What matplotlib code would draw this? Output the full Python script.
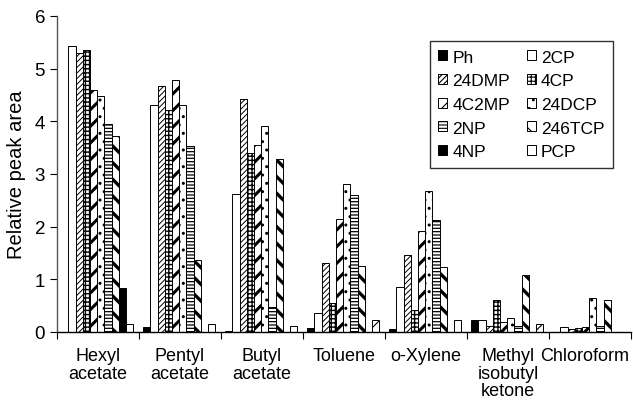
import numpy as np
import matplotlib
matplotlib.use("Agg")
import matplotlib.pyplot as plt
import matplotlib.transforms as mtransforms

plt.rcParams['font.family'] = ['Liberation Sans', 'DejaVu Sans']
plt.rcParams['hatch.linewidth'] = 0.8

solvents = ["Hexyl\nacetate", "Pentyl\nacetate", "Butyl\nacetate", "Toluene",
            "o-Xylene", "Methyl\nisobutyl\nketone", "Chloroform"]

compounds = ["Ph", "2CP", "24DMP", "4CP", "4C2MP", "24DCP", "2NP", "246TCP", "4NP", "PCP"]

# relative peak area for each phenol, one value per solvent
ph     = [0.00, 0.09, 0.02, 0.08, 0.06, 0.23, 0.00]
cp2    = [5.43, 4.30, 2.62, 0.36, 0.85, 0.22, 0.09]
dmp24  = [5.30, 4.66, 4.43, 1.31, 1.45, 0.12, 0.06]
cp4    = [5.36, 4.22, 3.40, 0.55, 0.42, 0.61, 0.07]
c2mp4  = [4.59, 4.78, 3.54, 2.15, 1.91, 0.18, 0.09]
dcp24  = [4.47, 4.30, 3.90, 2.80, 2.67, 0.27, 0.65]
np2    = [3.95, 3.53, 0.48, 2.60, 2.13, 0.12, 0.12]
tcp246 = [3.72, 1.37, 3.28, 1.26, 1.24, 1.08, 0.61]
np4    = [0.84, 0.00, 0.00, 0.00, 0.00, 0.00, 0.00]
pcp    = [0.15, 0.14, 0.12, 0.23, 0.22, 0.15, 0.00]

series = [ph, cp2, dmp24, cp4, c2mp4, dcp24, np2, tcp246, np4, pcp]

# fill / hatch / hatch line width for each compound
styles = [
    ("black", "xxx", 1.0),
    ("white", "", 0.8),
    ("white", "//////", 0.7),
    ("white", "++++", 1.0),
    ("white", "//", 2.2),
    ("white", "..", 1.0),
    ("white", "-----", 0.9),
    ("white", "\\\\", 2.4),
    ("black", "", 0.8),
    ("white", "/", 0.8),
]

fig = plt.figure(figsize=(6.33, 4.02), dpi=100)
ax = fig.add_axes([0.090, 0.172, 0.907, 0.786])

n_groups = len(solvents)
bw = 0.088
x0 = np.arange(n_groups) + 0.05

handles = []
for i, (vals, (fc, hatch, hlw)) in enumerate(zip(series, styles)):
    bars = ax.bar(x0 + i * bw, vals, width=bw, align='edge', color=fc,
                  edgecolor='black', linewidth=0.7, hatch=hatch,
                  label=compounds[i])
    for b in bars:
        if hasattr(b, 'set_hatch_linewidth'):
            b.set_hatch_linewidth(hlw)
    handles.append(bars)

ax.set_xlim(0, n_groups)
ax.set_ylim(0, 6)
ax.set_yticks(range(0, 7))
ax.set_xticks(np.arange(n_groups) + 0.5)
ax.set_xticklabels(solvents, linespacing=1.05)
ax.set_xticks(np.arange(n_groups + 1), minor=True)
ax.tick_params(axis='x', which='major', length=0, pad=11, labelsize=13)
ax.tick_params(axis='x', which='minor', length=5, direction='out', width=0.8)
ax.tick_params(axis='y', length=5, direction='out', width=0.8, labelsize=13.5)
ax.set_ylabel("Relative peak area", fontsize=14.5, labelpad=6)

# nudge the last label so it stays inside the figure
last = ax.get_xticklabels()[-1]
last.set_transform(last.get_transform() +
                   mtransforms.ScaledTranslation(-5 / 100, 0, fig.dpi_scale_trans))

for s in ['top', 'right']:
    ax.spines[s].set_visible(False)
ax.spines['left'].set_color('#555555')
ax.spines['left'].set_linewidth(1.0)
ax.spines['bottom'].set_linewidth(1.0)

# legend entries go row by row: Ph 2CP / 24DMP 4CP / ...
order = [0, 2, 4, 6, 8, 1, 3, 5, 7, 9]
leg = ax.legend([handles[k] for k in order], [compounds[k] for k in order],
                ncol=2, loc='upper left', bbox_to_anchor=(0.649, 0.921),
                fontsize=12.5, frameon=True, fancybox=False,
                handlelength=0.5, handleheight=0.5, handletextpad=0.3,
                columnspacing=1.0, labelspacing=0.5, borderpad=0.5,
                borderaxespad=0)
leg.get_frame().set_edgecolor('black')
leg.get_frame().set_linewidth(1.0)

fig.savefig("out.png", dpi=100)
